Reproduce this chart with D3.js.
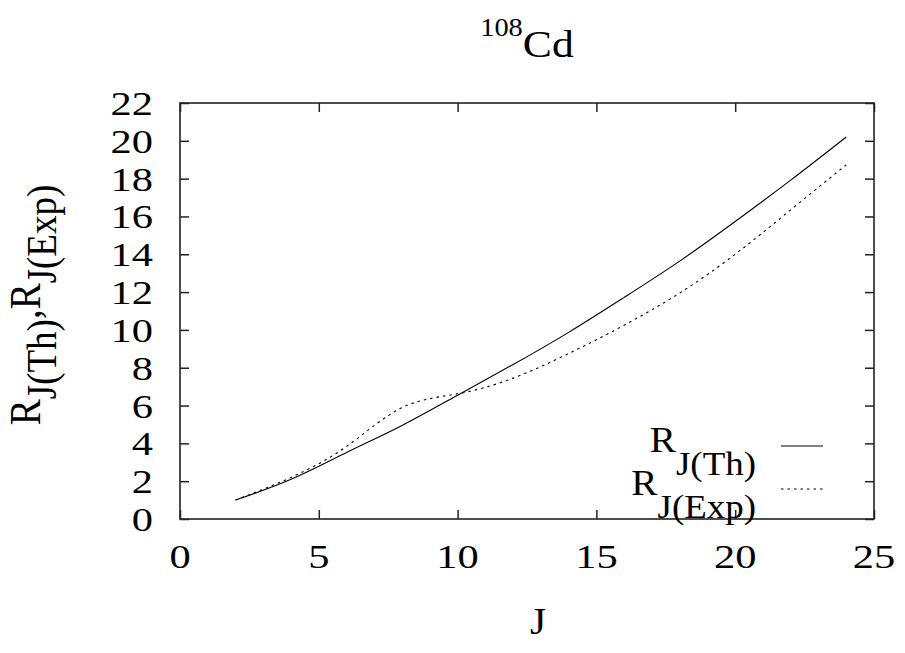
<!DOCTYPE html>
<html>
<head>
<meta charset="utf-8">
<script src="https://cdn.jsdelivr.net/npm/d3@7"></script>
<style>
  body { margin: 0; background: #fff; }
  text, tspan { font-family: "Liberation Serif", "DejaVu Serif", serif; }
</style>
</head>
<body>
<div id="chart"></div>
<script>
// data
var spins = [2, 4, 6, 8, 10, 12, 14, 16, 18, 20, 22, 24]
var rTh = [1, 2.1, 3.52, 4.95, 6.55, 8.17, 9.87, 11.72, 13.64, 15.73, 17.92, 20.2]
var rExp = [1, 2.2, 3.84, 5.89, 6.62, 7.45, 8.75, 10.25, 11.95, 14.0, 16.35, 18.73]
var xTicks = [0, 5, 10, 15, 20, 25]
var yTicks = [0, 2, 4, 6, 8, 10, 12, 14, 16, 18, 20, 22]

var W = 905, H = 653
var margin = { top: 103, left: 180, right: 31, bottom: 134 }
var width = W - margin.left - margin.right
var height = H - margin.top - margin.bottom

// the original postscript is stretched sideways, so text gets an x scale
var numScale = 1.25
var txtScale = 1.12

var svg = d3.select('#chart').append('svg')
  .attr('width', W).attr('height', H)

var g = svg.append('g')
  .attr('transform', 'translate(' + margin.left + ',' + margin.top + ')')

var x = d3.scaleLinear().domain([0, 25]).range([0, width])
var y = d3.scaleLinear().domain([0, 22]).range([height, 0])

// ticks pointing inward, mirrored on all sides
var tl = 9
g.append('g').call(d3.axisBottom(x).tickValues(xTicks).tickSize(-tl).tickFormat(''))
  .attr('transform', 'translate(0,' + height + ')')
g.append('g').call(d3.axisTop(x).tickValues(xTicks).tickSize(-tl).tickFormat(''))
g.append('g').call(d3.axisLeft(y).tickValues(yTicks).tickSize(-tl).tickFormat(''))
g.append('g').call(d3.axisRight(y).tickValues(yTicks).tickSize(-tl).tickFormat(''))
  .attr('transform', 'translate(' + width + ',0)')
g.selectAll('.domain').remove()
g.selectAll('.tick line').attr('stroke', '#222').attr('stroke-width', 1.5)

g.append('rect')
  .attr('width', width).attr('height', height)
  .attr('fill', 'none').attr('stroke', '#222').attr('stroke-width', 1.6)

// tick labels
g.selectAll('.xlab').data(xTicks).enter().append('text')
  .attr('class', 'xlab')
  .attr('transform', d => 'translate(' + x(d) + ',' + (height + 49) + ') scale(' + numScale + ',1)')
  .attr('text-anchor', 'middle').attr('font-size', 34)
  .text(d => d)

g.selectAll('.ylab').data(yTicks).enter().append('text')
  .attr('class', 'ylab')
  .attr('transform', d => 'translate(-27,' + (y(d) + 12) + ') scale(' + numScale + ',1)')
  .attr('text-anchor', 'end').attr('font-size', 34)
  .text(d => d)

// curves
var line = d3.line().curve(d3.curveNatural)
  .x((d, i) => x(spins[i])).y(d => y(d))

g.append('path').datum(rTh)
  .attr('d', line).attr('fill', 'none')
  .attr('stroke', '#000').attr('stroke-width', 1.1)

g.append('path').datum(rExp)
  .attr('d', line).attr('fill', 'none')
  .attr('stroke', '#000').attr('stroke-width', 1.1)
  .attr('stroke-dasharray', '2.5,4')

// legend
var legend = [
  { sub: 'J(Th)', dash: null, y: 446 },
  { sub: 'J(Exp)', dash: '2.5,4', y: 489 }
]
legend.forEach(function(d) {
  var t = svg.append('text')
    .attr('transform', 'translate(756,' + (d.y + 6) + ') scale(' + txtScale + ',1)')
    .attr('text-anchor', 'end').attr('font-size', 35)
  t.append('tspan').text('R')
  t.append('tspan').attr('dy', 23).attr('font-size', 33).text(d.sub)
  svg.append('line')
    .attr('x1', 781).attr('x2', 823)
    .attr('y1', d.y).attr('y2', d.y)
    .attr('stroke', '#000').attr('stroke-width', 1.1)
    .attr('stroke-dasharray', d.dash)
})

// axis titles
svg.append('text')
  .attr('transform', 'translate(538,634) scale(' + txtScale + ',1)')
  .attr('text-anchor', 'middle').attr('font-size', 37)
  .text('J')

var yt = svg.append('text')
  .attr('transform', 'translate(40,305) rotate(-90) scale(1,' + txtScale + ')')
  .attr('text-anchor', 'middle').attr('font-size', 39)
yt.append('tspan').text('R')
yt.append('tspan').attr('dy', 14).attr('font-size', 37).text('J(Th)')
yt.append('tspan').attr('dy', -14).text(',R')
yt.append('tspan').attr('dy', 14).attr('font-size', 37).text('J(Exp)')

// title
var tt = svg.append('text')
  .attr('transform', 'translate(527,57) scale(' + txtScale + ',1)')
  .attr('text-anchor', 'middle').attr('font-size', 39)
tt.append('tspan').attr('dy', -21).attr('font-size', 25)
  .attr('textLength', 38).attr('lengthAdjust', 'spacingAndGlyphs').text('108')
tt.append('tspan').attr('dy', 21).text('Cd')
</script>
</body>
</html>
